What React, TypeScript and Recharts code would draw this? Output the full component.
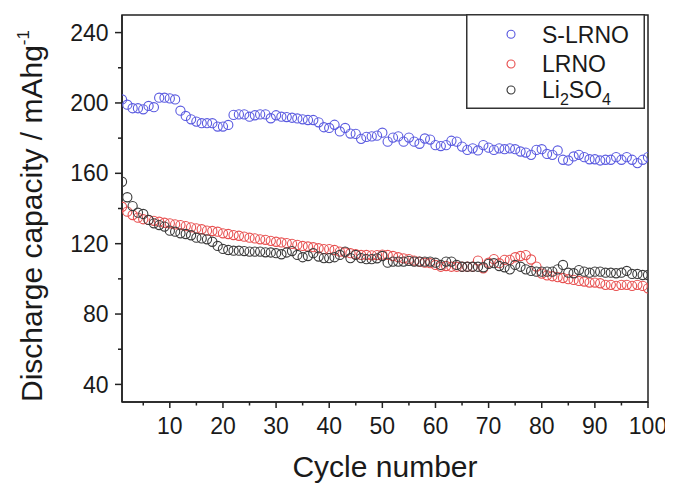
import React from 'react';
import { ScatterChart, Scatter, XAxis, YAxis, ReferenceArea, Legend } from 'recharts';

const cycles = Array.from({ length: 100 }, (_, i) => i + 1);

const sLRNO = [
  202, 199, 197, 197, 196.4, 198.3, 197.6, 203, 203, 202.6,
  202, 195.6, 192.6, 190.7, 189.4, 188.5, 188.5, 188.5, 186.6, 186.6,
  187.5, 193.2, 193.5, 193.5, 192.2, 193, 193.5, 193.5, 191.3, 193,
  192.2, 192, 191.6, 191.2, 190.7, 190.3, 190.3, 189, 186.2, 185.8,
  187.6, 183.8, 185.8, 182.6, 182.4, 179.6, 180.7, 181, 181.4, 183.1,
  178, 180.3, 181, 178, 180.3, 178, 176.8, 179.8, 179.2, 176,
  175.5, 176, 178.5, 178, 175.2, 173.3, 174.2, 173, 176, 174.6,
  173.3, 174.2, 173.7, 174.2, 173.7, 172.4, 171.8, 170.5, 173.3, 173.7,
  171, 170.5, 173, 167.7, 167.3, 169.6, 170.5, 169.2, 168, 168,
  167.3, 167.7, 167.7, 169.2, 167.7, 169.2, 167.7, 165.8, 167.7, 169.2,
];

const LRNO = [
  141, 138.2, 136.3, 134.8, 133.9, 133.5, 133, 132.5, 131.9, 131.6,
  131, 130.6, 130, 129.3, 128.7, 128.2, 127.4, 127.2, 126.8, 125.9,
  125.5, 124.9, 124.5, 124, 123.4, 123, 122.5, 122.2, 121.6, 121.1,
  120.7, 120.3, 119.9, 119.3, 118.7, 118.4, 118, 117.4, 116.9, 116.9,
  116.4, 115.5, 115, 114.6, 114, 113.6, 113.6, 113.4, 113.5, 113.8,
  113.6, 113, 112.3, 111.7, 111.2, 110.4, 109.8, 109.2, 108.9, 107.9,
  106.9, 107.3, 106.9, 106.9, 106.9, 106.9, 106.9, 110.4, 106, 109.2,
  111.2, 108.9, 110.8, 110.8, 112.3, 113, 113.5, 111, 107, 103,
  102, 101.5, 101, 100.5, 99.8, 99.4, 98.8, 98.5, 97.9, 97.9,
  97.5, 96.6, 96.6, 96, 96.6, 96.6, 96, 96.6, 96, 94.6,
];

const li2SO4 = [
  155.2, 146.4, 141.4, 137.6, 136.9, 133.5, 131.6, 130.6, 129.7, 127.4,
  126.8, 125.9, 125.5, 124.8, 123.4, 123, 122.5, 121.1, 118.7, 117,
  116.4, 116, 116, 115.8, 115.5, 115.5, 115.5, 115.1, 115, 114.6,
  114, 115, 115.8, 113.6, 112.3, 113, 114.6, 112.7, 111.8, 111.8,
  112.3, 113.6, 115.5, 111.8, 113.6, 111.8, 111.2, 111.2, 111.7, 113,
  109.2, 109.8, 109.8, 109.8, 110.2, 109.8, 109.8, 109.8, 109.8, 109.2,
  107.9, 109.8, 109.8, 107.9, 106.9, 106.9, 106.9, 106.9, 106.6, 108.5,
  108.9, 107.3, 106.6, 105.4, 107.9, 106.9, 105.4, 104.5, 104.1, 104.1,
  104.1, 104.1, 105.4, 107.9, 103.5, 103.2, 105, 104.1, 103.5, 104.1,
  104.1, 103.5, 103.5, 103.2, 103.5, 104.5, 102.8, 102.8, 102.2, 102.2,
];

const xTicks = [5, 10, 15, 20, 25, 30, 35, 40, 45, 50, 55, 60, 65, 70, 75, 80, 85, 90, 95, 100];
const yTicks = [40, 60, 80, 100, 120, 140, 160, 180, 200, 220, 240];
const xMajorStep = 10;
const yMajorStep = 40;

const seriesNames = ['S-LRNO', 'LRNO', 'Li2SO4'];
const COLORS = ['#5a5ae0', '#e85050', '#3a3a3a'];

const FONT = '"Liberation Sans", Arial, Helvetica, sans-serif';
const TEXT = '#1a1a1a';
const AXIS = '#222';

const toPoints = (vals: number[]) => vals.map((v, i) => ({ cycle: cycles[i], v }));

const makeShape = (color: string) => (props: any) => (
  <circle cx={props.cx} cy={props.cy} r={4.6} fill="none" stroke={color} strokeWidth={1.1} />
);

const XTick = (props: any) => {
  const { x, y, payload } = props;
  const major = payload.value % xMajorStep === 0;
  return (
    <g>
      <line x1={x} y1={y} x2={x} y2={y + (major ? 6 : 3.5)} stroke={AXIS} strokeWidth={1.5} />
      {major && (
        <text x={x} y={y + 31.5} textAnchor="middle" fontSize={23} fontFamily={FONT} fill={TEXT}>
          {payload.value}
        </text>
      )}
    </g>
  );
};

const YTick = (props: any) => {
  const { x, y, payload } = props;
  const major = payload.value % yMajorStep === 0;
  return (
    <g>
      <line x1={x} y1={y} x2={x - (major ? 7 : 4)} y2={y} stroke={AXIS} strokeWidth={1.5} />
      {major && (
        <text x={x - 13.5} y={y + 8.1} textAnchor="end" fontSize={23} fontFamily={FONT} fill={TEXT}>
          {payload.value}
        </text>
      )}
    </g>
  );
};

const YLabel = () => (
  <text
    x={34}
    y={208}
    transform="rotate(-90, 34, 208)"
    textAnchor="middle"
    fontSize={30}
    fontFamily={FONT}
    fill={TEXT}
  >
    Discharge capacity / mAhg
    <tspan fontSize={17} dy={-13}>-1</tspan>
  </text>
);

const XLabel = () => (
  <text x={377} y={469} textAnchor="middle" fontSize={30} fontFamily={FONT} fill={TEXT}>
    Cycle number
  </text>
);

const LegendBox = () => {
  const rowsY = [20.3, 50, 76];
  return (
    <svg width={179} height={95} style={{ display: 'block' }}>
      <rect x={0.75} y={0.75} width={177.5} height={93.5} fill="#fff" stroke="#333" strokeWidth={1.5} />
      {rowsY.map((cy, i) => (
        <circle key={i} cx={45} cy={cy} r={4} fill="none" stroke={COLORS[i]} strokeWidth={1.1} />
      ))}
      <text x={76} y={rowsY[0] + 8.2} fontSize={23} fontFamily={FONT} fill={TEXT}>{seriesNames[0]}</text>
      <text x={76} y={rowsY[1] + 8.2} fontSize={23} fontFamily={FONT} fill={TEXT}>{seriesNames[1]}</text>
      <text x={76} y={rowsY[2] + 8.2} fontSize={23} fontFamily={FONT} fill={TEXT}>
        Li<tspan fontSize={16} dy={7}>2</tspan>
        <tspan dy={-7}>SO</tspan>
        <tspan fontSize={16} dy={7}>4</tspan>
      </text>
    </svg>
  );
};

export default function App() {
  return (
    <div style={{ width: 665, height: 480 }}>
      <ScatterChart width={665} height={480} margin={{ top: 7, right: 25, left: 14, bottom: 0 }}>
        <XAxis
          type="number"
          dataKey="cycle"
          domain={[1, 100]}
          ticks={xTicks}
          interval={0}
          height={86}
          tickSize={0}
          tickMargin={0}
          tickLine={false}
          tick={<XTick />}
          axisLine={{ stroke: AXIS, strokeWidth: 1.5 }}
          allowDataOverflow
          label={<XLabel />}
        />
        <YAxis
          type="number"
          dataKey="v"
          domain={[30, 250]}
          ticks={yTicks}
          interval={0}
          width={100}
          tickSize={0}
          tickMargin={0}
          tickLine={false}
          tick={<YTick />}
          axisLine={{ stroke: AXIS, strokeWidth: 1.5 }}
          allowDataOverflow
          label={<YLabel />}
        />
        <ReferenceArea
          x1={1}
          x2={100}
          y1={30}
          y2={250}
          fill="none"
          fillOpacity={0}
          stroke={AXIS}
          strokeWidth={1.5}
          strokeOpacity={1}
          ifOverflow="visible"
        />
        <Scatter name={seriesNames[0]} data={toPoints(sLRNO)} shape={makeShape(COLORS[0])} isAnimationActive={false} />
        <Scatter name={seriesNames[1]} data={toPoints(LRNO)} shape={makeShape(COLORS[1])} isAnimationActive={false} />
        <Scatter name={seriesNames[2]} data={toPoints(li2SO4)} shape={makeShape(COLORS[2])} isAnimationActive={false} />
        <Legend
          layout="horizontal"
          verticalAlign="middle"
          align="center"
          wrapperStyle={{ position: 'absolute', left: 458, top: 6, width: 179, height: 95, margin: 0 }}
          content={() => <LegendBox />}
        />
      </ScatterChart>
    </div>
  );
}
